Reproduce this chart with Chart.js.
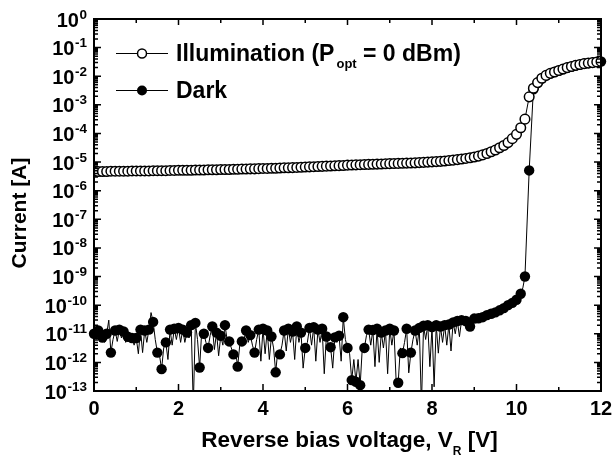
<!DOCTYPE html>
<html>
<head>
<meta charset="utf-8">
<script src="https://cdn.jsdelivr.net/npm/chart.js@4.4.1/dist/chart.umd.min.js"></script>
<style>
html,body{margin:0;padding:0;background:#fff;}
#wrap{width:614px;height:457px;}
</style>
</head>
<body>
<div id="wrap"><canvas id="c" width="614" height="457"></canvas></div>
<script>
// ---------------- data ----------------
const illumVoltage = [
 0.0,0.1,0.2,0.3,0.4,0.5,0.6,0.7,0.8,0.9,
 1.0,1.1,1.2,1.3,1.4,1.5,1.6,1.7,1.8,1.9,
 2.0,2.1,2.2,2.3,2.4,2.5,2.6,2.7,2.8,2.9,
 3.0,3.1,3.2,3.3,3.4,3.5,3.6,3.7,3.8,3.9,
 4.0,4.1,4.2,4.3,4.4,4.5,4.6,4.7,4.8,4.9,
 5.0,5.1,5.2,5.3,5.4,5.5,5.6,5.7,5.8,5.9,
 6.0,6.1,6.2,6.3,6.4,6.5,6.6,6.7,6.8,6.9,
 7.0,7.1,7.2,7.3,7.4,7.5,7.6,7.7,7.8,7.9,
 8.0,8.1,8.2,8.3,8.4,8.5,8.6,8.7,8.8,8.9,
 9.0,9.1,9.2,9.3,9.4,9.5,9.6,9.7,9.8,9.9,
 10.0,10.1,10.2,10.3,10.4,10.5,10.6,10.7,10.8,10.9,
 11.0,11.1,11.2,11.3,11.4,11.5,11.6,11.7,11.8,11.9,
 12.0
];
const illumCurrent = [
 4.7e-6,4.7e-6,4.7e-6,4.7e-6,4.8e-6,4.8e-6,4.8e-6,4.8e-6,4.8e-6,4.9e-6,
 4.9e-6,4.9e-6,4.9e-6,4.9e-6,5.0e-6,5.0e-6,5.0e-6,5.0e-6,5.1e-6,5.1e-6,
 5.2e-6,5.2e-6,5.2e-6,5.2e-6,5.3e-6,5.3e-6,5.3e-6,5.4e-6,5.4e-6,5.4e-6,
 5.5e-6,5.5e-6,5.5e-6,5.6e-6,5.6e-6,5.7e-6,5.7e-6,5.8e-6,5.8e-6,5.9e-6,
 6.0e-6,6.0e-6,6.1e-6,6.1e-6,6.2e-6,6.3e-6,6.3e-6,6.4e-6,6.5e-6,6.6e-6,
 6.7e-6,6.8e-6,6.9e-6,7.0e-6,7.1e-6,7.2e-6,7.3e-6,7.4e-6,7.5e-6,7.6e-6,
 7.8e-6,7.9e-6,8.0e-6,8.1e-6,8.2e-6,8.3e-6,8.4e-6,8.5e-6,8.6e-6,8.7e-6,
 8.8e-6,8.9e-6,9.0e-6,9.1e-6,9.2e-6,9.3e-6,9.4e-6,9.6e-6,9.8e-6,1.0e-5,
 1.02e-5,1.04e-5,1.06e-5,1.09e-5,1.13e-5,1.17e-5,1.22e-5,1.28e-5,1.34e-5,1.42e-5,
 1.51e-5,1.62e-5,1.78e-5,2.0e-5,2.29e-5,2.63e-5,3.16e-5,3.8e-5,4.79e-5,6.6e-5,
 9.3e-5,1.58e-4,3.16e-4,1.9e-3,3.8e-3,6.0e-3,8.5e-3,1.07e-2,1.26e-2,1.41e-2,
 1.58e-2,1.78e-2,2.0e-2,2.19e-2,2.4e-2,2.57e-2,2.75e-2,2.88e-2,3.0e-2,3.16e-2,
 3.3e-2
];
// Dark: measured every 0.05 V up to 10.2 V (markers every 0.1 V), then every 0.1 V
const darkVoltage = [
 0.00,0.05,0.10,0.15,0.20,0.25,0.30,0.35,0.40,0.45,
 0.50,0.55,0.60,0.65,0.70,0.75,0.80,0.85,0.90,0.95,
 1.00,1.05,1.10,1.15,1.20,1.25,1.30,1.35,1.40,1.45,
 1.50,1.55,1.60,1.65,1.70,1.75,1.80,1.85,1.90,1.95,
 2.00,2.05,2.10,2.15,2.20,2.25,2.30,2.35,2.40,2.45,
 2.50,2.55,2.60,2.65,2.70,2.75,2.80,2.85,2.90,2.95,
 3.00,3.05,3.10,3.15,3.20,3.25,3.30,3.35,3.40,3.45,
 3.50,3.55,3.60,3.65,3.70,3.75,3.80,3.85,3.90,3.95,
 4.00,4.05,4.10,4.15,4.20,4.25,4.30,4.35,4.40,4.45,
 4.50,4.55,4.60,4.65,4.70,4.75,4.80,4.85,4.90,4.95,
 5.00,5.05,5.10,5.15,5.20,5.25,5.30,5.35,5.40,5.45,
 5.50,5.55,5.60,5.65,5.70,5.75,5.80,5.85,5.90,5.95,
 6.00,6.05,6.10,6.15,6.20,6.25,6.30,6.35,6.40,6.45,
 6.50,6.55,6.60,6.65,6.70,6.75,6.80,6.85,6.90,6.95,
 7.00,7.05,7.10,7.15,7.20,7.25,7.30,7.35,7.40,7.45,
 7.50,7.55,7.60,7.65,7.70,7.75,7.80,7.85,7.90,7.95,
 8.00,8.05,8.10,8.15,8.20,8.25,8.30,8.35,8.40,8.45,
 8.50,8.55,8.60,8.65,8.70,8.75,8.80,8.85,8.90,8.95,
 9.00,9.05,9.10,9.15,9.20,9.25,9.30,9.35,9.40,9.45,
 9.50,9.55,9.60,9.65,9.70,9.75,9.80,9.85,9.90,9.95,
 10.00,10.05,10.10,10.15,10.20,
 10.3,10.4,10.5,10.6,10.7,10.8,10.9,11.0,11.1,11.2,
 11.3,11.4,11.5,11.6,11.7,11.8,11.9,12.0
];
const darkCurrent = [
 1.0e-11,6.3e-12,1.3e-11,7.9e-12,7.4e-12,5.0e-12,1.0e-11,3.0e-11,2.2e-12,6.3e-12,
 1.3e-11,5.4e-12,1.4e-11,7.1e-12,1.2e-11,5.0e-12,7.9e-12,6.3e-12,7.1e-12,4.0e-12,
 7.1e-12,2.0e-12,1.4e-11,2.2e-12,1.3e-11,5.0e-12,1.4e-11,5.5e-11,2.6e-11,6.3e-12,
 2.2e-12,1.8e-12,5.8e-13,3.2e-12,5.0e-12,1.26e-12,1.4e-11,4.0e-12,1.5e-11,6.3e-12,
 1.6e-11,5.0e-12,1.4e-11,5.0e-12,1.1e-11,7.1e-12,2.0e-11,3e-14,2.4e-11,6.3e-12,
 6.6e-13,1.26e-11,1.0e-11,5.0e-12,3.2e-12,8.9e-12,1.8e-11,2.8e-12,1.1e-11,1.7e-12,
 8.5e-12,4.0e-12,2.0e-11,6.3e-12,5.4e-12,3.2e-12,1.9e-12,2.5e-12,7.1e-13,4.0e-12,
 5.4e-12,6.3e-12,1.3e-11,5.0e-12,9.0e-12,4.0e-12,2.2e-12,6.3e-12,1.4e-11,1.1e-12,
 1.5e-11,2.0e-12,1.3e-11,1.26e-12,8.0e-12,3.2e-12,4.5e-13,2.5e-12,1.9e-12,4.0e-12,
 1.3e-11,2.5e-12,1.5e-11,5.0e-12,1.2e-11,1.26e-12,1.8e-11,5.0e-12,1.1e-11,6.3e-13,
 3.2e-12,5.0e-12,1.6e-11,4.0e-12,1.7e-11,1.1e-12,1.4e-11,5.0e-12,1.5e-11,4.0e-13,
 8.0e-12,4.0e-12,3.4e-12,6.3e-13,7.5e-12,5.0e-12,8.5e-12,1.1e-12,3.8e-11,6.3e-12,
 3.2e-12,2.0e-12,2.4e-13,1.26e-12,2.1e-13,1.26e-12,1.6e-13,3.2e-12,3.2e-12,8.9e-12,
 1.4e-11,4.0e-12,1.35e-11,7.1e-13,1.5e-11,1.0e-12,1.1e-11,3.2e-12,1.3e-11,4.0e-13,
 1.5e-11,4.0e-12,1.3e-11,2.5e-13,1.95e-13,3.2e-12,2.1e-12,5.0e-12,1.5e-11,4.3e-13,
 2.2e-12,6.3e-12,1.3e-11,4.0e-12,1.6e-11,3e-14,1.9e-11,6.3e-12,2.0e-11,7.1e-13,
 1.7e-11,1.4e-13,2.0e-11,2.1e-12,1.8e-11,5.0e-12,2.0e-11,4.0e-12,2.1e-11,2.5e-12,
 2.5e-11,1.0e-11,2.8e-11,7.9e-12,3.0e-11,2.0e-11,2.8e-11,2.0e-11,1.8e-11,2.5e-11,
 3.4e-11,3.0e-11,3.5e-11,3.4e-11,3.8e-11,4.0e-11,4.5e-11,4.7e-11,5.0e-11,5.3e-11,
 5.6e-11,6.0e-11,6.6e-11,7.2e-11,7.9e-11,8.9e-11,1.0e-10,1.1e-10,1.2e-10,1.35e-10,
 1.55e-10,1.9e-10,2.5e-10,4.0e-10,1.0e-9,
 5.1e-6,3.5e-3,5.8e-3,8.3e-3,1.05e-2,1.24e-2,1.4e-2,1.56e-2,1.76e-2,1.98e-2,
 2.17e-2,2.38e-2,2.55e-2,2.73e-2,2.86e-2,2.98e-2,3.14e-2,3.28e-2
];
const xMajorTicks = [0,2,4,6,8,10,12];
const xMinorTicks = [1,3,5,7,9,11];
const xTickLabels = ['0','2','4','6','8','10','12'];
const yDecadeExponents = [0,-1,-2,-3,-4,-5,-6,-7,-8,-9,-10,-11,-12,-13];
const yMinorFactors = [2,3,4,5,6,7,8,9];
const seriesNames = ['Illumination', 'Dark'];
const xTitle = ['Reverse bias voltage, V', 'R', ' [V]'];
const yTitle = 'Current [A]';
const legendIllum = ['Illumination (P', 'opt', ' = 0 dBm)'];

// ---------------- chart ----------------
const FONT = '"Liberation Sans", Arial, Helvetica, sans-serif';
function f(size){ return 'bold ' + size + 'px ' + FONT; }

const decor = {
  id: 'decor',
  afterDraw(chart) {
    const {ctx, chartArea: a, scales: {x, y}} = chart;
    ctx.save();
    ctx.strokeStyle = '#000';
    ctx.fillStyle = '#000';
    // frame
    ctx.lineWidth = 2;
    ctx.strokeRect(a.left, a.top, a.right - a.left, a.bottom - a.top);
    // x ticks (inward, bottom and top)
    ctx.lineWidth = 1.5;
    ctx.beginPath();
    xMajorTicks.forEach(v => {
      const px = x.getPixelForValue(v);
      ctx.moveTo(px, a.bottom); ctx.lineTo(px, a.bottom - 7);
      ctx.moveTo(px, a.top); ctx.lineTo(px, a.top + 6);
    });
    xMinorTicks.forEach(v => {
      const px = x.getPixelForValue(v);
      ctx.moveTo(px, a.bottom); ctx.lineTo(px, a.bottom - 4);
      ctx.moveTo(px, a.top); ctx.lineTo(px, a.top + 4);
    });
    ctx.stroke();
    // y ticks (inward, left and right)
    ctx.beginPath();
    yDecadeExponents.forEach(e => {
      const py = y.getPixelForValue(Math.pow(10, e));
      ctx.moveTo(a.left, py); ctx.lineTo(a.left + 7, py);
      ctx.moveTo(a.right, py); ctx.lineTo(a.right - 7, py);
      if (e < 0) {
        yMinorFactors.forEach(k => {
          const pm = y.getPixelForValue(k * Math.pow(10, e));
          ctx.moveTo(a.left, pm); ctx.lineTo(a.left + 4, pm);
          ctx.moveTo(a.right, pm); ctx.lineTo(a.right - 4, pm);
        });
      }
    });
    ctx.stroke();
    // x tick labels
    ctx.font = f(20);
    ctx.textAlign = 'center';
    ctx.textBaseline = 'alphabetic';
    xMajorTicks.forEach((v, i) => {
      ctx.fillText(xTickLabels[i], x.getPixelForValue(v), 415);
    });
    // y tick labels with superscript exponents
    yDecadeExponents.forEach(e => {
      const py = y.getPixelForValue(Math.pow(10, e));
      const exp = String(e);
      ctx.font = f(13.5);
      ctx.textAlign = 'right';
      ctx.textBaseline = 'alphabetic';
      const right = a.left - 7;
      ctx.fillText(exp, right, py - 0.5);
      const w = ctx.measureText(exp).width;
      ctx.font = f(20);
      ctx.fillText('10', right - w - 0.5, py + 7.5);
    });
    // x title with subscript
    ctx.textAlign = 'left';
    ctx.font = f(22.5);
    const w1 = ctx.measureText(xTitle[0]).width;
    const w3 = ctx.measureText(xTitle[2]).width;
    ctx.font = f(12);
    const w2 = ctx.measureText(xTitle[1]).width;
    let sx = (a.left + a.right) / 2 + 2 - (w1 + w2 + w3) / 2;
    ctx.font = f(22.5);
    ctx.fillText(xTitle[0], sx, 447);
    ctx.font = f(12);
    ctx.fillText(xTitle[1], sx + w1, 455);
    ctx.font = f(22.5);
    ctx.fillText(xTitle[2], sx + w1 + w2, 447);
    // y title rotated
    ctx.save();
    ctx.translate(25.5, 213);
    ctx.rotate(-Math.PI / 2);
    ctx.font = f(21);
    ctx.textAlign = 'center';
    ctx.fillText(yTitle, 0, 0);
    ctx.restore();
    // legend
    ctx.lineWidth = 1;
    ctx.beginPath();
    ctx.moveTo(116, 53.5); ctx.lineTo(168, 53.5);
    ctx.moveTo(116, 90.5); ctx.lineTo(168, 90.5);
    ctx.stroke();
    ctx.beginPath(); ctx.arc(142, 53.5, 4.5, 0, Math.PI * 2);
    ctx.fillStyle = '#fff'; ctx.fill(); ctx.lineWidth = 1.5; ctx.stroke();
    ctx.fillStyle = '#000';
    ctx.beginPath(); ctx.arc(142, 90.5, 5, 0, Math.PI * 2); ctx.fill();
    ctx.textAlign = 'left';
    ctx.font = f(23);
    ctx.fillText(legendIllum[0], 176, 61);
    const lw1 = ctx.measureText(legendIllum[0]).width;
    ctx.font = f(13);
    ctx.fillText(legendIllum[1], 176 + lw1 + 2, 67.5);
    const lw2 = ctx.measureText(legendIllum[1]).width;
    ctx.font = f(23);
    ctx.fillText(legendIllum[2], 176 + lw1 + 2 + lw2, 61);
    ctx.fillText(seriesNames[1], 176, 98);
    ctx.restore();
  }
};

const illumData = illumVoltage.map((v, i) => ({x: v, y: illumCurrent[i]}));
const darkData = darkVoltage.map((v, i) => ({x: v, y: darkCurrent[i]}));
const DARK_FINE_COUNT = 205; // points measured at 0.05 V spacing

new Chart(document.getElementById('c'), {
  type: 'line',
  data: {
    datasets: [
      {
        label: seriesNames[0],
        data: illumData,
        borderColor: '#000',
        borderWidth: 1,
        pointRadius: 4.8,
        pointBackgroundColor: '#fff',
        pointBorderColor: '#000',
        pointBorderWidth: 1.5,
        tension: 0
      },
      {
        label: seriesNames[1],
        data: darkData,
        borderColor: '#000',
        borderWidth: 1,
        pointRadius: c => (c.dataIndex >= DARK_FINE_COUNT || c.dataIndex % 2 === 0) ? 5.2 : 0,
        pointBackgroundColor: '#000',
        pointBorderColor: '#000',
        pointBorderWidth: 0,
        tension: 0,
        clip: {left: 6, top: 6, right: 6, bottom: 0}
      }
    ]
  },
  options: {
    responsive: false,
    animation: false,
    devicePixelRatio: 1,
    layout: {padding: {left: 94, right: 13, top: 19, bottom: 66}},
    plugins: {legend: {display: false}, tooltip: {enabled: false}},
    events: [],
    scales: {
      x: {type: 'linear', min: 0, max: 12, display: false},
      y: {type: 'logarithmic', min: 1e-13, max: 1, display: false}
    }
  },
  plugins: [decor]
});
</script>
</body>
</html>
